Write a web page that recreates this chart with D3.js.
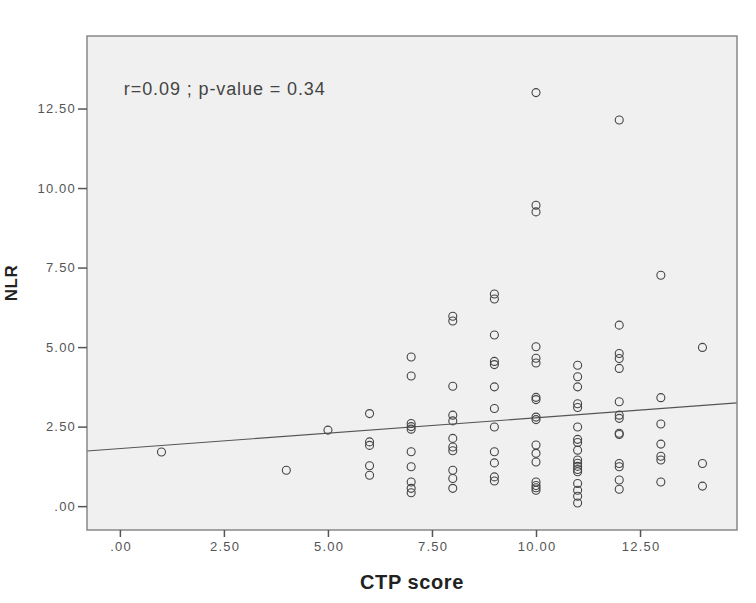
<!DOCTYPE html>
<html>
<head>
<meta charset="utf-8">
<script src="https://cdn.jsdelivr.net/npm/d3@7"></script>
<style>
  body { margin: 0; background: #fff; }
  text { font-family: "Liberation Sans", Arial, sans-serif; }
</style>
</head>
<body>
<div id="chart"></div>
<script>
// CTP score columns and NLR values
const ctpScores = [1, 4, 5, 6, 7, 8, 9, 10, 11, 12, 13, 14];
const nlrByScore = [
  [1.70],
  [1.13],
  [2.39],
  [2.91, 2.02, 1.91, 1.27, 0.97],
  [4.69, 4.09, 2.60, 2.50, 2.42, 1.71, 1.24, 0.76, 0.56, 0.42],
  [5.97, 5.82, 3.77, 2.86, 2.68, 2.13, 1.86, 1.74, 1.13, 0.87, 0.56],
  [6.67, 6.51, 5.38, 4.55, 4.45, 3.75, 3.07, 2.49, 1.71, 1.36, 0.92, 0.79],
  [13.0, 9.46, 9.25, 5.01, 4.65, 4.50, 3.42, 3.35, 2.80, 2.72, 1.92, 1.66, 1.39, 0.76, 0.65, 0.58, 0.50],
  [4.43, 4.07, 3.75, 3.22, 3.10, 2.49, 2.10, 2.00, 1.76, 1.45, 1.35, 1.25, 1.15, 1.08, 0.71, 0.50, 0.31, 0.10],
  [12.14, 5.69, 4.80, 4.64, 4.33, 3.28, 2.86, 2.76, 2.29, 2.25, 1.34, 1.24, 0.82, 0.53],
  [7.26, 3.41, 2.58, 1.95, 1.57, 1.45, 0.76],
  [4.99, 1.34, 0.63]
];
const xTicks = [0, 2.5, 5, 7.5, 10, 12.5];
const yTicks = [0, 2.5, 5, 7.5, 10, 12.5];
const fitIntercept = 1.81;
const fitSlope = 0.0967;
const annotation = "r=0.09 ; p-value = 0.34";

const points = [];
ctpScores.forEach((s, i) => nlrByScore[i].forEach(v => points.push({ctp: s, nlr: v})));

const W = 756, H = 603;
const margin = {top: 36, right: 19, bottom: 73, left: 87},
      width = W - margin.left - margin.right,
      height = H - margin.top - margin.bottom;

const svg = d3.select("#chart").append("svg")
  .attr("width", W)
  .attr("height", H);

const g = svg.append("g").attr("transform", `translate(${margin.left},${margin.top})`);

const x = d3.scaleLinear().domain([-0.79, 14.83]).range([0, width]);
const y = d3.scaleLinear().domain([-0.75, 14.78]).range([height, 0]);

const fmt = d => d3.format(".2f")(d).replace(/^0\./, ".");

g.append("rect")
  .attr("width", width)
  .attr("height", height)
  .attr("fill", "#f0f0f0");

// regression line
const xd = x.domain();
g.append("path")
  .datum(xd.map(v => ({ctp: v, nlr: fitIntercept + fitSlope * v})))
  .attr("fill", "none")
  .attr("stroke", "#555")
  .attr("stroke-width", 1.2)
  .attr("d", d3.line().x(d => x(d.ctp)).y(d => y(d.nlr)));

g.selectAll("circle")
  .data(points)
  .enter()
  .append("circle")
  .attr("cx", d => x(d.ctp))
  .attr("cy", d => y(d.nlr))
  .attr("r", 4)
  .attr("fill", "none")
  .attr("stroke", "#444")
  .attr("stroke-width", 1.1);

g.append("rect")
  .attr("width", width)
  .attr("height", height)
  .attr("fill", "none")
  .attr("stroke", "#888")
  .attr("stroke-width", 1.5);

const xAxis = g.append("g")
  .attr("transform", `translate(0,${height})`)
  .call(d3.axisBottom(x).tickValues(xTicks).tickFormat(fmt).tickSize(7).tickPadding(5));
const yAxis = g.append("g")
  .call(d3.axisLeft(y).tickValues(yTicks).tickFormat(fmt).tickSize(9).tickPadding(2));

[xAxis, yAxis].forEach(a => {
  a.select(".domain").remove();
  a.selectAll(".tick line").attr("stroke", "#555").attr("stroke-width", 1.5);
  a.selectAll(".tick text")
    .attr("fill", "#555")
    .attr("font-size", "13px")
    .attr("letter-spacing", "1.2px")
    .attr("font-family", "'Liberation Sans', Arial, sans-serif");
});
xAxis.selectAll(".tick text").attr("dx", "0.6px");

g.append("text")
  .attr("x", x(0) + 4)
  .attr("y", y(13.1) + 6)
  .attr("font-size", "18px")
  .attr("letter-spacing", "0.9px")
  .attr("fill", "#444")
  .text(annotation);

svg.append("text")
  .attr("x", 412)
  .attr("y", 589)
  .attr("text-anchor", "middle")
  .attr("font-size", "20px")
  .attr("letter-spacing", "0.6px")
  .attr("font-weight", "bold")
  .attr("fill", "#222")
  .text("CTP score");

svg.append("text")
  .attr("transform", `translate(17,283) rotate(-90)`)
  .attr("text-anchor", "middle")
  .attr("font-size", "17px")
  .attr("letter-spacing", "0.5px")
  .attr("font-weight", "bold")
  .attr("fill", "#222")
  .text("NLR");
</script>
</body>
</html>
